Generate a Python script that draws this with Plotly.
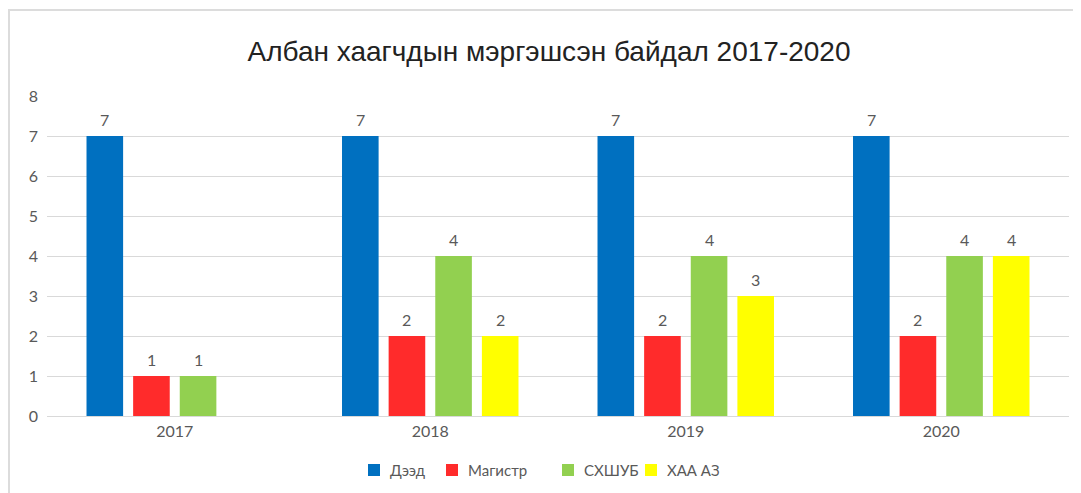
import plotly.graph_objects as go

categories = ["2017", "2018", "2019", "2020"]
series_names = ["Дээд", "Магистр", "СХШУБ", "ХАА АЗ"]
deed = [7, 7, 7, 7]
magistr = [1, 2, 2, 2]
skhshub = [1, 4, 4, 4]
khaa_az = [None, 2, 3, 4]
colors = ["#0070C0", "#FF2B2B", "#92D050", "#FFFF00"]
series_values = [deed, magistr, skhshub, khaa_az]

# page body has an 8px margin; work in screen pixels and convert
OFF = 8
SW, SH = 1081, 493
FW, FH = SW - OFF, SH - OFF
# screen-pixel frame of the plot area
PX0, PX1, PY0, PY1 = 47, 1069, 96, 416
L = PX0 - OFF
R = FW - (PX1 - OFF)
T = PY0 - OFF
B = FH - (PY1 - OFF)
pw = FW - L - R
ph = FH - T - B


def px(sx):
    return (sx - OFF - L) / pw


def py(sy):
    return 1 - (sy - OFF - T) / ph


BARGAP = 0.27
GROUPGAP = 0.215
LABEL_FONT = dict(family="Lato", size=16, color="#595959")

fig = go.Figure()
for name, vals, col in zip(series_names, series_values, colors):
    fig.add_trace(go.Bar(x=categories, y=vals, name=name, marker_color=col,
                         marker_line_width=0, showlegend=False))

# value labels above bars (x given as category index)
slot = (1 - BARGAP) * (pw / len(categories)) / len(series_names)
annotations = []
for i, vals in enumerate(series_values):
    for ci, v in enumerate(vals):
        if v is None:
            continue
        annotations.append(dict(x=ci, y=v, xref="x", yref="y", text=str(v), showarrow=False,
                                xshift=(i - (len(series_names) - 1) / 2) * slot, yshift=17,
                                xanchor="center", yanchor="middle", font=LABEL_FONT))

# legend (manual, compact like the original)
legend_square_x = [368, 446, 562, 645]
legend_y = 470
shapes = []
for sx, name, col in zip(legend_square_x, series_names, colors):
    shapes.append(dict(type="rect", xref="paper", yref="paper",
                       x0=px(sx), x1=px(sx + 12), y0=py(legend_y + 6), y1=py(legend_y - 6),
                       line=dict(width=0), fillcolor=col))
    annotations.append(dict(x=px(sx + 20), y=py(legend_y), xref="paper", yref="paper",
                            text=name, showarrow=False, xanchor="left", yanchor="middle",
                            font=dict(family="Lato", size=15, color="#595959")))

# outer frame
shapes.append(dict(type="rect", xref="paper", yref="paper",
                   x0=px(9), x1=px(SW + 20), y0=py(SH + 20), y1=py(10),
                   line=dict(color="#dcdcdc", width=2), fillcolor="rgba(0,0,0,0)", layer="below"))

fig.update_layout(
    width=FW, height=FH,
    margin=dict(l=L, r=R, t=T, b=B, autoexpand=False),
    paper_bgcolor="white", plot_bgcolor="white",
    barmode="group", bargap=BARGAP, bargroupgap=GROUPGAP,
    title=dict(text="Албан хаагчдын мэргэшсэн байдал 2017-2020",
               x=px(549), xref="paper", xanchor="center",
               y=1 - (51 - OFF) / FH, yanchor="middle",
               font=dict(family="Liberation Sans, Arial", size=28, color="#222222")),
    font=dict(family="Lato", color="#595959", size=16),
    showlegend=False,
    shapes=shapes,
    annotations=annotations,
)
fig.update_yaxes(range=[0, 8], dtick=1, showgrid=True, gridcolor="#d9d9d9", gridwidth=1,
                 zeroline=True, zerolinecolor="#d9d9d9", zerolinewidth=1,
                 ticks="", tickfont=dict(family="Lato", size=16, color="#595959"), ticklabelstandoff=8,
                 showline=False)
fig.update_xaxes(type="category", categoryorder="array", categoryarray=categories,
                 range=[-0.5, len(categories) - 0.5],
                 showgrid=False, ticks="", tickfont=dict(family="Lato", size=16, color="#595959"),
                 ticklabelstandoff=4, showline=False)

fig.write_html("out.html")
